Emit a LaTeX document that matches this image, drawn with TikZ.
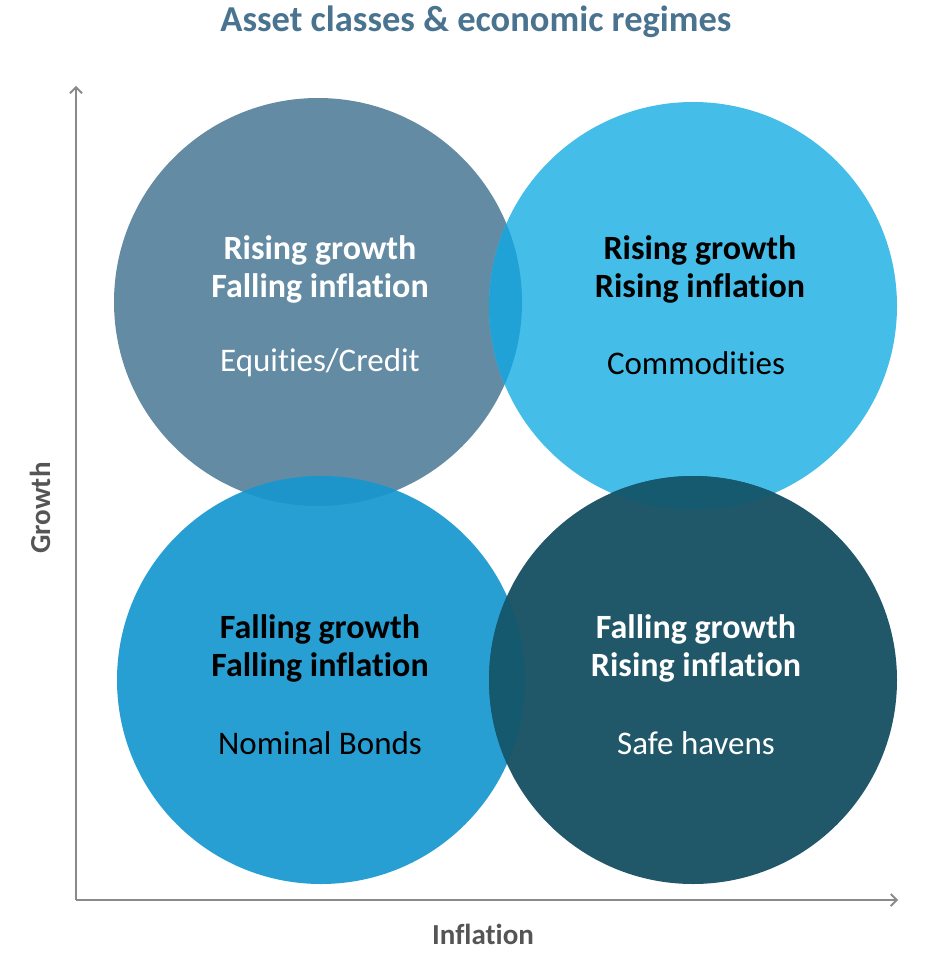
\documentclass[tikz,border=0pt]{standalone}
\usepackage{fontspec}
\setmainfont{Carlito}[Ligatures=NoCommon]
\usepackage{xcolor}
\usetikzlibrary{arrows,arrows.meta,positioning,calc}

\definecolor{slate}{HTML}{638BA3}
\definecolor{sky}{HTML}{45BDE9}
\definecolor{ocean}{HTML}{289FD3}
\definecolor{deepteal}{HTML}{215869}
\definecolor{mixtop}{HTML}{20A2D7}
\definecolor{mixleft}{HTML}{1E95CA}
\definecolor{mixbottom}{HTML}{14596E}
\definecolor{mixright}{HTML}{165A70}
\definecolor{titleblue}{HTML}{4A7390}
\definecolor{axisgrey}{HTML}{8A8A8A}
\definecolor{labelgrey}{HTML}{555555}

\begin{document}
\begin{tikzpicture}[x=1pt,y=-1pt,
    regime/.style={circle, draw=none, minimum size=2*\rad pt, inner sep=0pt},
    headline/.style={align=center, font=\fontsize{34}{38}\selectfont\bfseries},
    asset/.style={font=\fontsize{33}{38}\selectfont},
    axisline/.style={-{Straight Barb[length=6pt,width=12pt,line width=1.8pt]}, axisgrey, line width=1.3pt},
    axislabel/.style={text=labelgrey, font=\fontsize{29}{34}\selectfont\bfseries}]
    \def\rad{204}
    \useasboundingbox (0,0) rectangle (936,960);
    % centres of the four regimes
    \coordinate (tl) at (318,302);
    \coordinate (tr) at (693,306);
    \coordinate (bl) at (321,680);
    \coordinate (br) at (693,680);
    \node[regime, fill=slate] (RGFI) at (tl) {};
    \node[regime, fill=sky] (RGRI) at (tr) {};
    \node[regime, fill=ocean] (FGFI) at (bl) {};
    \node[regime, fill=deepteal] (FGRI) at (br) {};
    % overlaps
    \begin{scope}
    \clip (tl) circle (\rad);
    \fill[mixtop] (tr) circle (\rad);
    \fill[mixleft] (bl) circle (\rad);
    \end{scope}
    \begin{scope}
    \clip (br) circle (\rad);
    \fill[mixbottom] (bl) circle (\rad);
    \fill[mixright] (tr) circle (\rad);
    \end{scope}
    % texts
    \node[headline, text=white] (h1) at (320,269) {Rising growth\\Falling inflation};
    \node[asset, text=white] (a1) at (320,363) {Equities/Credit};
    \node[headline, text=black] (h2) at (700,269) {Rising growth\\Rising inflation};
    \node[asset, text=black] (a2) at (696,363) {Commodities};
    \node[headline, text=black] (h3) at (320,648) {Falling growth\\Falling inflation};
    \node[asset, text=black] (a3) at (320,743) {Nominal Bonds};
    \node[headline, text=white] (h4) at (696,648) {Falling growth\\Rising inflation};
    \node[asset, text=white] (a4) at (696,743) {Safe havens};
    % axes
    \coordinate (O) at (76,900);
    \coordinate (ytop) at (76,86);
    \coordinate (xend) at (898,900);
    \draw[axisline] (O) -- (ytop);
    \draw[axisline] (O) -- (xend);
    \node[axislabel, rotate=90] (growth) at (40,508) {Growth};
    \node[axislabel] (inflation) at (483,934) {Inflation};
    \node[text=titleblue, font=\fontsize{36.5}{42}\selectfont\bfseries] (title) at (476,22) {Asset classes \& economic regimes};
\end{tikzpicture}
\end{document}
